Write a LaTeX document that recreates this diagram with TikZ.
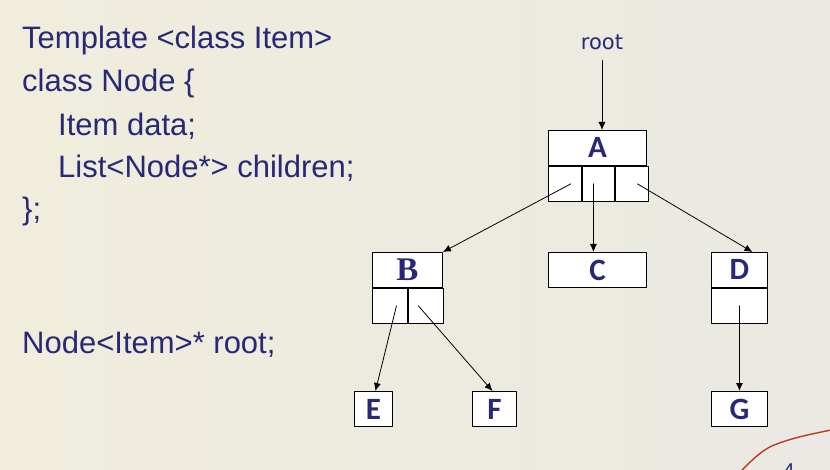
\documentclass[tikz,border=0pt]{standalone}
\usepackage{fontspec}
\setmainfont{Liberation Sans}
\newfontfamily\boxfont{Carlito}
\newfontfamily\boxserif{Liberation Serif}
\newfontfamily\labelfont{DejaVu Sans}
\usetikzlibrary{arrows.meta}
\definecolor{navy}{RGB}{40,40,120}
\definecolor{parchL}{RGB}{240,237,220}
\definecolor{parchR}{RGB}{234,233,227}
\definecolor{swirl}{RGB}{185,62,32}
\tikzset{
	cell/.style={draw, fill=white, line width=0.9pt, inner sep=0pt, anchor=north west,
		minimum height=35pt, text=navy, font=\boxfont\bfseries\fontsize{31}{31}\selectfont},
	code/.style={anchor=base west, inner sep=0pt, text=navy, font=\fontsize{31}{31}\selectfont},
	ptr/.style={-{Latex[length=8pt,width=7pt]}, line width=0.8pt}
}
\begin{document}
\begin{tikzpicture}[x=1pt, y=-1pt, line join=round, line cap=round]
		\useasboundingbox (0,0) rectangle (830,470);
		\shade[left color=parchL, right color=parchR] (0,0) rectangle (830,470);
		% code on the left
		\node[code] (l1) at (22,49) {Template <class Item>};
		\node[code] (l2) at (22,92) {class Node \{};
		\node[code] (l3) at (58,136) {Item data;};
		\node[code] (l4) at (58,178) {List<Node*> children;};
		\node[code] (l5) at (22,220) {\};};
		\node[code] (decl) at (22,353) {Node<Item>* root;};
		% tree
		\node[inner sep=0pt, anchor=base, text=navy, font=\labelfont\fontsize{21}{21}\selectfont]
		(rootlbl) at (602,50) {root};
		\node[cell, minimum width=98pt] (A) at (548,130) {A};
		\node[cell, minimum width=32.7pt] (A1) at (A.south west) {};
		\node[cell, minimum width=32.7pt] (A2) at (A1.north east) {};
		\node[cell, minimum width=32.6pt] (A3) at (A2.north east) {};
		\node[cell, minimum width=70pt, font=\boxserif\bfseries\fontsize{33}{33}\selectfont] (B) at (372,252) {B};
		\node[cell, minimum width=35pt] (B1) at (B.south west) {};
		\node[cell, minimum width=35pt] (B2) at (B1.north east) {};
		\node[cell, minimum width=98pt] (C) at (548,252) {C};
		\node[cell, minimum width=56pt] (D) at (711,252) {D};
		\node[cell, minimum width=56pt] (D1) at (D.south west) {};
		\node[cell, minimum width=38pt] (E) at (354,391) {E};
		\node[cell, minimum width=44pt] (F) at (472,391) {F};
		\node[cell, minimum width=56pt] (G) at (711,391) {G};
		\path
		([xshift=6pt]A1.center) coordinate (a1)
		([xshift=-5pt]A2.center) coordinate (a2)
		([xshift=5.5pt]A3.center) coordinate (a3)
		([xshift=6.5pt]B1.center) coordinate (b1)
		([xshift=-7.5pt]B2.center) coordinate (b2);
		\draw[ptr, shorten <=10pt] (rootlbl.south) -- (rootlbl.south |- A.north);
		\draw[ptr] (a1) -- (B.north east);
		\draw[ptr] (a2) -- (a2 |- C.north);
		\draw[ptr] (a3) -- ([xshift=13pt]D.north);
		\draw[ptr] (b1) -- ([xshift=2pt]E.north);
		\draw[ptr] (b2) -- ([xshift=-2pt]F.north);
		\draw[ptr] (D1.center) -- (G.north);
		% corner swirl and page number
		\draw[swirl, line width=1.4pt] (741,471) .. controls (752,460) and (762,450) .. (774,445)
		.. controls (795,437) and (812,434) .. (831,430);
		\node[inner sep=0pt, anchor=north, text=navy, font=\fontsize{20}{20}\selectfont] (pg) at (789,464) {4};
	\end{tikzpicture}
\end{document}
